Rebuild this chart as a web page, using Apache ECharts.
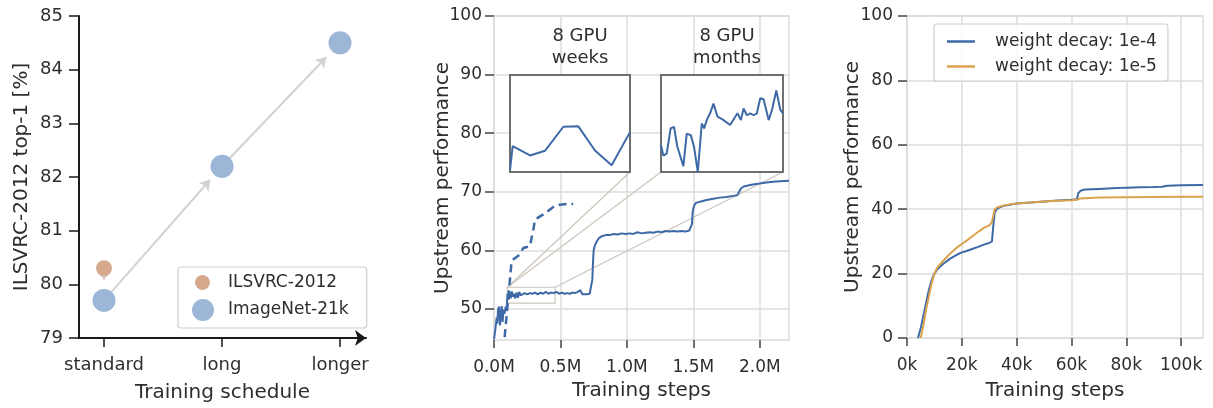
<!DOCTYPE html>
<html><head><meta charset="utf-8">
<script src="https://cdn.jsdelivr.net/npm/echarts@6/dist/echarts.min.js"></script>
<style>html,body{margin:0;padding:0;background:#fff}#c{width:1213px;height:408px}</style>
</head><body><div id="c"></div>
<script>
// ---------- Panel 1 ----------
const schedules = ['standard', 'long', 'longer'];
const scheduleIdx = [0, 1, 2];
const ilsvrcX = [0];
const ilsvrcTop1 = [80.3];
const in21kX = [0, 1, 2];
const in21kTop1 = [79.7, 82.2, 84.5];

// ---------- Panel 2 ----------
const stepsM = [0.000,0.010,0.020,0.025,0.030,0.038,0.045,0.050,0.058,0.065,0.072,0.080,0.088,0.095,0.102,0.110,0.118,0.126,0.134,0.142,0.150,0.160,0.170,0.180,0.190,0.200,0.215,0.230,0.250,0.270,0.290,0.310,0.330,0.350,0.370,0.390,0.410,0.430,0.450,0.470,0.490,0.510,0.530,0.550,0.570,0.590,0.610,0.630,0.650,0.665,0.680,0.700,0.720,0.735,0.740,0.745,0.750,0.760,0.775,0.790,0.810,0.840,0.870,0.900,0.930,0.960,0.990,1.020,1.050,1.080,1.110,1.140,1.170,1.200,1.230,1.260,1.290,1.320,1.350,1.380,1.410,1.440,1.470,1.485,1.490,1.495,1.505,1.520,1.550,1.600,1.650,1.700,1.750,1.800,1.830,1.845,1.850,1.860,1.880,1.920,1.960,2.000,2.050,2.100,2.150,2.220];
const upstream = [44.8,46.5,48.5,47.5,49.8,50.4,47.2,48.6,50.5,47.8,49.9,49.2,50.4,50.0,52.6,51.6,52.9,51.8,53.0,52.1,52.6,51.8,52.8,51.9,52.9,52.3,52.2,52.7,52.5,52.7,52.6,52.8,52.5,52.8,52.6,52.9,52.6,52.8,52.7,52.9,52.6,52.8,52.6,52.7,52.6,52.8,52.7,52.9,53.2,52.5,52.6,52.5,52.6,52.5,55.0,58.0,60.0,60.9,61.6,62.1,62.4,62.6,62.6,62.8,62.7,62.9,62.8,62.9,62.8,63.1,62.9,63.0,63.1,63.0,63.2,63.1,63.3,63.2,63.3,63.2,63.3,63.2,63.4,63.3,64.5,66.5,67.6,68.1,68.3,68.6,68.8,69.0,69.1,69.3,69.4,69.5,70.2,70.6,70.9,71.1,71.3,71.4,71.6,71.7,71.8,71.9];
const dashedStepsM = [0.080,0.120,0.130,0.140,0.160,0.195,0.220,0.270,0.283,0.296,0.308,0.346,0.383,0.434,0.459,0.496,0.546,0.596];
const dashedUpstream = [45.2,55.0,57.5,58.4,58.7,59.3,60.4,60.7,62.1,63.5,65.2,65.8,66.3,67.2,67.6,67.8,67.9,67.9];
const upstreamTicks = [50, 60, 70, 80, 90, 100];
const stepTicksM = [0, 0.5, 1.0, 1.5, 2.0];

// "8 GPU weeks" zoom window and inset
const weeksBoxX = [0.10, 0.46];
const weeksBoxY = [51.0, 53.7];
const weeksInsetX = [0.100,0.108,0.160,0.205,0.260,0.305,0.355,0.405,0.460];
const weeksInsetY = [51.05,51.72,51.46,51.59,52.26,52.27,51.60,51.19,52.11];

// "8 GPU months" inset
const monthsRangeX = [1.0, 2.2];
const monthsRangeY = [70.0, 72.0];
const monthsInsetX = [1.000,1.023,1.056,1.095,1.128,1.161,1.220,1.253,1.293,1.325,1.362,1.401,1.424,1.450,1.483,1.516,1.556,1.608,1.680,1.730,1.753,1.786,1.812,1.845,1.878,1.911,1.943,1.976,2.009,2.059,2.092,2.134,2.174,2.200];
const monthsInsetY = [70.55,70.34,70.38,70.90,70.93,70.52,70.12,70.79,70.76,70.52,70.00,71.00,70.90,71.07,71.21,71.41,71.14,71.08,70.97,71.14,71.21,71.07,71.31,71.17,71.21,71.17,71.21,71.52,71.50,71.07,71.28,71.68,71.28,71.21];

// ---------- Panel 3 ----------
const wd4Steps = [4,5,6,7,8,9,10,11,12.5,14,15.5,17,18.5,20,22,24,26,28,30,31,31.5,32,33,35,37.5,40,45,50,55,60,62,62.5,63.5,65,70,75,80,85,90,93,95,100,108];
const wd4Perf  = [0,3,7,11,15,18,20,21.3,22.5,23.5,24.5,25.3,26,26.6,27.1,27.7,28.3,29,29.5,30,35,39,40.3,41,41.4,41.8,42.1,42.4,42.7,42.9,43.1,45,45.8,46.1,46.3,46.5,46.7,46.8,46.9,47.0,47.3,47.4,47.5];
const wd5Steps = [5,6,7,8,9,10,11,12.5,14,15.5,17,18.5,20,22,24,26,27,28,30,31,31.5,32,33,35,37.5,40,45,50,55,60,62,63,65,70,80,90,100,108];
const wd5Perf  = [0,4,9,13,17,20,21.8,23.3,24.7,26,27.2,28.3,29.2,30.4,31.7,33,33.6,34.2,35,36,38,40,40.6,41.1,41.5,41.8,42.1,42.4,42.6,42.8,42.9,43.3,43.4,43.6,43.7,43.8,43.9,43.9];
const stepTicksK = [0, 20, 40, 60, 80, 100];
const perfTicks = [0, 20, 40, 60, 80, 100];

// ---------- styling ----------
const F = 'DejaVu Sans';
const TXT = '#2e2e2e';
const BLUE = '#3d6aa6';
const ORANGE = '#dba24c';
const GRIDC = '#dcdcdc';
const pairs = (xs, ys) => xs.map((x, i) => [x, ys[i]]);

const chart = echarts.init(document.getElementById('c'), null, {renderer: 'canvas'});

const tickLabel = {fontFamily: F, fontSize: 17, color: TXT};
const nameStyle = {fontFamily: F, fontSize: 20, color: TXT};

const option = {
  animation: false,
  backgroundColor: '#fff',
  title: [
    {text: '8 GPU\nweeks', left: 575, top: 20, textAlign: 'center',
     textStyle: {fontFamily: F, fontSize: 18, fontWeight: 'normal', color: TXT, lineHeight: 22}},
    {text: '8 GPU\nmonths', left: 722, top: 20, textAlign: 'center',
     textStyle: {fontFamily: F, fontSize: 18, fontWeight: 'normal', color: TXT, lineHeight: 22}}
  ],
  grid: [
    {left: 79, top: 16, width: 287, height: 323},
    {left: 494, top: 16, width: 295, height: 324, show: true, borderColor: GRIDC, borderWidth: 1.5},
    {left: 907, top: 16, width: 296, height: 322, show: true, borderColor: GRIDC, borderWidth: 1.5},
    {left: 510, top: 75, width: 120, height: 97, show: true, borderColor: '#6e6e6e', borderWidth: 2, backgroundColor: '#fff', z: 3},
    {left: 661, top: 75, width: 122, height: 97, show: true, borderColor: '#6e6e6e', borderWidth: 2, backgroundColor: '#fff', z: 3}
  ],
  legend: [
    {data: ['ImageNet-21k'], left: 178, top: 267, orient: 'vertical', padding: [32, 18, 7, 14],
     itemWidth: 22, itemHeight: 22, icon: 'circle', borderColor: '#cfcfcf', borderWidth: 1.2, borderRadius: 3,
     backgroundColor: 'rgba(255,255,255,0.85)', textStyle: {fontFamily: F, fontSize: 17, color: TXT, padding: [0, 0, 0, 9]}, selectedMode: false},
    {data: ['ILSVRC-2012'], left: 195, top: 274, orient: 'vertical', padding: 0,
     itemWidth: 15, itemHeight: 15, icon: 'circle', textStyle: {fontFamily: F, fontSize: 17, color: TXT, padding: [0, 0, 0, 13]}, selectedMode: false, z: 5},
    {data: ['weight decay: 1e-4', 'weight decay: 1e-5'], left: 934, top: 24, orient: 'vertical',
     padding: [9, 11, 6, 13], itemGap: 8, itemWidth: 28, itemHeight: 2.5, icon: 'rect',
     borderColor: '#cfcfcf', borderWidth: 1.2, borderRadius: 3, backgroundColor: 'rgba(255,255,255,0.85)',
     textStyle: {fontFamily: F, fontSize: 17, color: TXT, padding: [0, 0, 0, 15]}, selectedMode: false}
  ],
  xAxis: [
    {gridIndex: 0, type: 'value', min: -0.212, max: 2.22,
     axisLine: {show: true, onZero: false, lineStyle: {color: '#1a1a1a', width: 2}, symbol: ['none', 'arrow'], symbolSize: [12, 11]},
     axisTick: {show: true, customValues: scheduleIdx, length: 9, lineStyle: {color: '#1a1a1a', width: 1.5}},
     axisLabel: {customValues: scheduleIdx, formatter: v => schedules[Math.round(v)], margin: 18, fontFamily: F, fontSize: 18, color: TXT},
     splitLine: {show: false},
     name: 'Training schedule', nameLocation: 'middle', nameGap: 45, nameMoveOverlap: false, nameTextStyle: nameStyle},
    {gridIndex: 1, type: 'value', min: 0, max: 2.22, interval: 0.5,
     axisLine: {show: false},
     axisTick: {show: true, customValues: stepTicksM, length: 8, lineStyle: {color: '#444', width: 1.5}},
     axisLabel: {customValues: stepTicksM, formatter: v => v.toFixed(1) + 'M', margin: 19, ...tickLabel},
     splitLine: {show: true, lineStyle: {color: GRIDC, width: 1.5}},
     name: 'Training steps', nameLocation: 'middle', nameGap: 41, nameMoveOverlap: false, nameTextStyle: nameStyle},
    {gridIndex: 2, type: 'value', min: 0, max: 108, interval: 20,
     axisLine: {show: false},
     axisTick: {show: true, customValues: stepTicksK, length: 8, lineStyle: {color: '#444', width: 1.5}},
     axisLabel: {customValues: stepTicksK, formatter: v => v + 'k', margin: 19, ...tickLabel},
     splitLine: {show: true, lineStyle: {color: GRIDC, width: 1.5}},
     name: 'Training steps', nameLocation: 'middle', nameGap: 43, nameMoveOverlap: false, nameTextStyle: nameStyle},
    {gridIndex: 3, type: 'value', min: weeksBoxX[0], max: weeksBoxX[1], show: false},
    {gridIndex: 4, type: 'value', min: monthsRangeX[0], max: monthsRangeX[1], show: false}
  ],
  yAxis: [
    {gridIndex: 0, type: 'value', min: 79, max: 85, interval: 1,
     axisLine: {show: true, onZero: false, lineStyle: {color: '#1a1a1a', width: 2}},
     axisTick: {show: true, length: 10, lineStyle: {color: '#1a1a1a', width: 1.5}},
     axisLabel: {margin: 16, fontFamily: F, fontSize: 18, color: TXT},
     splitLine: {show: false},
     name: 'ILSVRC-2012 top-1 [%]', nameLocation: 'middle', nameGap: 47, nameMoveOverlap: false, nameTextStyle: nameStyle},
    {gridIndex: 1, type: 'value', min: 44.7, max: 100,
     axisLine: {show: false},
     axisTick: {show: true, customValues: upstreamTicks, length: 9, lineStyle: {color: '#444', width: 1.5}},
     axisLabel: {customValues: upstreamTicks, margin: 12, ...tickLabel},
     splitLine: {show: true, lineStyle: {color: GRIDC, width: 1.5}},
     name: 'Upstream performance', nameLocation: 'middle', nameGap: 41, nameMoveOverlap: false, nameTextStyle: nameStyle},
    {gridIndex: 2, type: 'value', min: 0, max: 100, interval: 20,
     axisLine: {show: false},
     axisTick: {show: true, customValues: perfTicks, length: 9, lineStyle: {color: '#444', width: 1.5}},
     axisLabel: {customValues: perfTicks, margin: 14, ...tickLabel},
     splitLine: {show: true, lineStyle: {color: GRIDC, width: 1.5}},
     name: 'Upstream performance', nameLocation: 'middle', nameGap: 44, nameMoveOverlap: false, nameTextStyle: nameStyle},
    {gridIndex: 3, type: 'value', min: weeksBoxY[0], max: weeksBoxY[1], show: false},
    {gridIndex: 4, type: 'value', min: monthsRangeY[0], max: monthsRangeY[1], show: false}
  ],
  series: [
    // panel 1
    {id: 'arrows', type: 'lines', coordinateSystem: 'cartesian2d', xAxisIndex: 0, yAxisIndex: 0,
     symbol: ['none', 'arrow'], symbolSize: 10, lineStyle: {color: '#d2d2d2', width: 2, opacity: 1}, z: 1, data: []},
    {name: 'ILSVRC-2012', type: 'scatter', xAxisIndex: 0, yAxisIndex: 0, symbol: 'circle', symbolSize: 16,
     itemStyle: {color: '#d6a98c', opacity: 1}, z: 3, data: pairs(ilsvrcX, ilsvrcTop1)},
    {name: 'ImageNet-21k', type: 'scatter', xAxisIndex: 0, yAxisIndex: 0, symbol: 'circle', symbolSize: 23,
     itemStyle: {color: '#9bb6d7', opacity: 1}, z: 3, data: pairs(in21kX, in21kTop1)},
    // panel 2
    {id: 'connectors', type: 'lines', coordinateSystem: 'cartesian2d', xAxisIndex: 1, yAxisIndex: 1,
     polyline: true, symbol: 'none', lineStyle: {color: '#cdc5bb', width: 1.2, opacity: 1}, z: 2, data: []},
    {type: 'line', xAxisIndex: 1, yAxisIndex: 1, symbol: 'none', lineStyle: {color: BLUE, width: 2}, z: 3,
     data: pairs(stepsM, upstream)},
    {type: 'line', xAxisIndex: 1, yAxisIndex: 1, symbol: 'none', lineStyle: {color: BLUE, width: 2.5, type: [8, 5]}, z: 3,
     data: pairs(dashedStepsM, dashedUpstream)},
    {type: 'line', xAxisIndex: 3, yAxisIndex: 3, symbol: 'none', lineStyle: {color: BLUE, width: 2}, z: 5,
     data: pairs(weeksInsetX, weeksInsetY)},
    {type: 'line', xAxisIndex: 4, yAxisIndex: 4, symbol: 'none', lineStyle: {color: BLUE, width: 2}, z: 5,
     data: pairs(monthsInsetX, monthsInsetY)},
    // panel 3
    {name: 'weight decay: 1e-4', type: 'line', xAxisIndex: 2, yAxisIndex: 2, symbol: 'none',
     itemStyle: {color: BLUE}, lineStyle: {color: BLUE, width: 2}, z: 3, data: pairs(wd4Steps, wd4Perf)},
    {name: 'weight decay: 1e-5', type: 'line', xAxisIndex: 2, yAxisIndex: 2, symbol: 'none',
     itemStyle: {color: ORANGE}, lineStyle: {color: ORANGE, width: 2}, z: 3, data: pairs(wd5Steps, wd5Perf)}
  ]
};
chart.setOption(option);

// ---- derived geometry (arrows shortened in pixel space, inset connectors) ----
function px(ax, p) { return chart.convertToPixel({xAxisIndex: ax, yAxisIndex: ax}, p); }
function dt(ax, p) { return chart.convertFromPixel({xAxisIndex: ax, yAxisIndex: ax}, p); }
function shrunk(ax, a, b, s0, s1) {
  const pa = px(ax, a), pb = px(ax, b);
  const dx = pb[0] - pa[0], dy = pb[1] - pa[1], L = Math.hypot(dx, dy);
  return [dt(ax, [pa[0] + dx * s0 / L, pa[1] + dy * s0 / L]), dt(ax, [pb[0] - dx * s1 / L, pb[1] - dy * s1 / L])];
}
const p21k = pairs(in21kX, in21kTop1);
const pIl = pairs(ilsvrcX, ilsvrcTop1);
const arrowData = [
  {coords: shrunk(0, pIl[0], p21k[0], 8, 20)},
  {coords: shrunk(0, p21k[0], p21k[1], 10, 18)},
  {coords: shrunk(0, p21k[1], p21k[2], 10, 20)}
];
const bx = weeksBoxX, by = weeksBoxY;
const inset1BR = dt(1, px(3, [weeksBoxX[1], weeksBoxY[0]]));
const inset2BL = dt(1, px(4, [monthsRangeX[0], monthsRangeY[0]]));
const inset2BR = dt(1, px(4, [monthsRangeX[1], monthsRangeY[0]]));
const connData = [
  {coords: [[bx[0], by[0]], [bx[1], by[0]], [bx[1], by[1]], [bx[0], by[1]], [bx[0], by[0]]]},
  {coords: [[bx[0], by[1]], inset1BR]},
  {coords: [[bx[0], by[1]], inset2BL]},
  {coords: [[bx[1], by[1]], inset2BR]}
];
chart.setOption({series: [{id: 'arrows', data: arrowData}, {id: 'connectors', data: connData}]});
</script>
</body></html>
